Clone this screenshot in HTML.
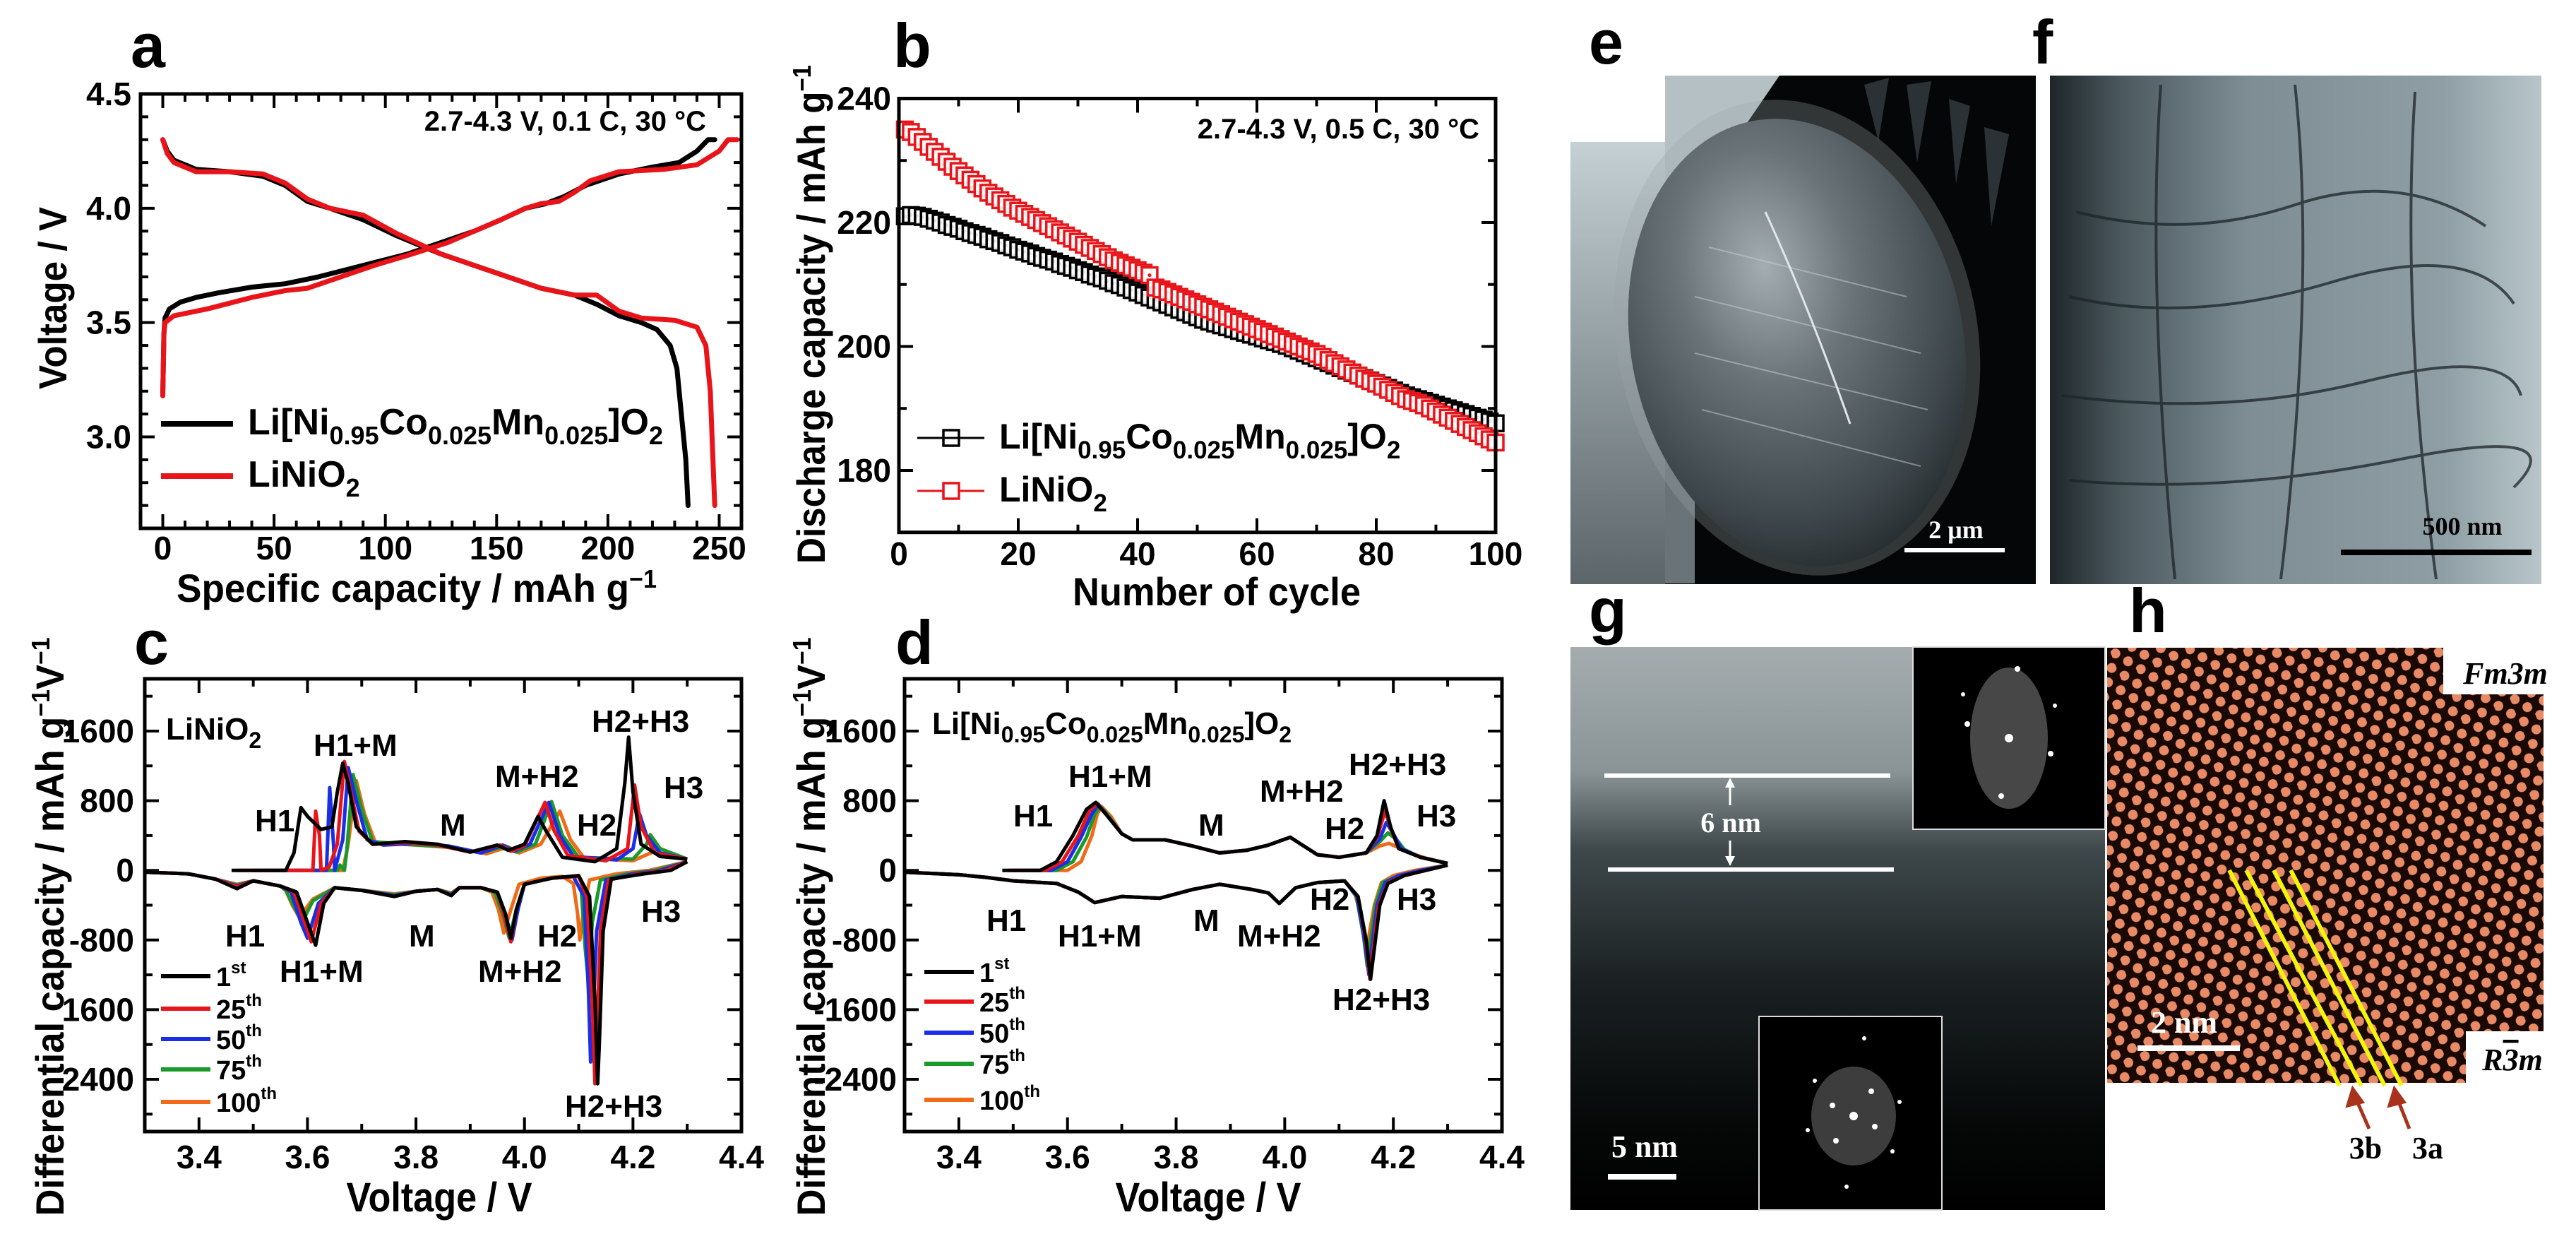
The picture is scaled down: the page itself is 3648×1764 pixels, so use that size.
<!DOCTYPE html>
<html><head><meta charset="utf-8">
<style>
html,body{margin:0;padding:0;background:#fff;}
svg{display:block;font-family:"Liberation Sans",Arial,sans-serif;font-weight:bold;}
</style></head>
<body>
<svg id="fig" xmlns="http://www.w3.org/2000/svg" width="3648" height="1764" viewBox="0 0 3648 1764">
<defs>
<radialGradient id="eg" cx="0.45" cy="0.32" r="0.75">
<stop offset="0" stop-color="#a4aeb2"/><stop offset="0.35" stop-color="#6a7478"/><stop offset="0.75" stop-color="#3e474b"/><stop offset="1" stop-color="#1e2428"/></radialGradient>
<linearGradient id="eleft" x1="0" y1="0" x2="0" y2="1"><stop offset="0" stop-color="#c4d0d4"/><stop offset="1" stop-color="#5c666a"/></linearGradient>
<linearGradient id="fg" x1="0" y1="0" x2="1" y2="0"><stop offset="0" stop-color="#1e2629"/><stop offset="0.15" stop-color="#4c5a60"/><stop offset="0.4" stop-color="#7d8d93"/><stop offset="0.8" stop-color="#8e9ea4"/><stop offset="1" stop-color="#b8c6ca"/></linearGradient>
<linearGradient id="gg" x1="0" y1="0" x2="0" y2="1"><stop offset="0" stop-color="#a4acae"/><stop offset="0.22" stop-color="#8a9496"/><stop offset="0.36" stop-color="#3e484a"/><stop offset="0.6" stop-color="#1a2022"/><stop offset="0.85" stop-color="#060808"/><stop offset="1" stop-color="#000"/></linearGradient>
<pattern id="lat" width="25" height="34" patternUnits="userSpaceOnUse" patternTransform="rotate(-22)">
<rect width="25" height="34" fill="#1a0804"/>
<circle cx="6" cy="8" r="7" fill="#e88a66"/><circle cx="18.5" cy="25" r="7" fill="#e88a66"/></pattern>
</defs>

<!-- panel labels -->
<text x="185" y="95" font-size="88">a</text>
<text x="1265" y="95" font-size="88">b</text>
<text x="190" y="940" font-size="88">c</text>
<text x="1268" y="940" font-size="88">d</text>
<text x="2250" y="90" font-size="88">e</text>
<text x="2878" y="90" font-size="88">f</text>
<text x="2250" y="895" font-size="88">g</text>
<text x="3015" y="895" font-size="88">h</text>

<!-- axis titles -->
<text x="590" y="852" font-size="56" text-anchor="middle" textLength="680" lengthAdjust="spacingAndGlyphs">Specific capacity / mAh g<tspan dy="-20" font-size="36">−1</tspan></text>
<text transform="translate(94,422) rotate(-90)" font-size="56" text-anchor="middle" textLength="258" lengthAdjust="spacingAndGlyphs">Voltage / V</text>
<text x="1723" y="857" font-size="56" text-anchor="middle" textLength="408" lengthAdjust="spacingAndGlyphs">Number of cycle</text>
<text transform="translate(1168,445) rotate(-90)" font-size="56" text-anchor="middle" textLength="706" lengthAdjust="spacingAndGlyphs">Discharge capacity / mAh g<tspan dy="-20" font-size="36">−1</tspan></text>
<text x="622" y="1715" font-size="58" text-anchor="middle" textLength="263" lengthAdjust="spacingAndGlyphs">Voltage / V</text>
<text transform="translate(90,1312) rotate(-90)" font-size="56" text-anchor="middle" textLength="819" lengthAdjust="spacingAndGlyphs">Differential capacity / mAh g<tspan dy="-20" font-size="36">−1</tspan><tspan dy="20">V</tspan><tspan dy="-20" font-size="36">−1</tspan></text>
<text x="1711" y="1715" font-size="58" text-anchor="middle" textLength="263" lengthAdjust="spacingAndGlyphs">Voltage / V</text>
<text transform="translate(1168,1312) rotate(-90)" font-size="56" text-anchor="middle" textLength="819" lengthAdjust="spacingAndGlyphs">Differential capacity / mAh g<tspan dy="-20" font-size="36">−1</tspan><tspan dy="20">V</tspan><tspan dy="-20" font-size="36">−1</tspan></text>

<!-- condition notes -->
<text x="1000" y="185" font-size="40" text-anchor="end">2.7-4.3 V, 0.1 C, 30 °C</text>
<text x="2095" y="196" font-size="40" text-anchor="end">2.7-4.3 V, 0.5 C, 30 °C</text>

<!-- legend a -->
<g>
<line x1="228" y1="600" x2="330" y2="600" stroke="#000" stroke-width="8"/>
<text x="351" y="615" font-size="52">Li[Ni<tspan dy="14" font-size="36">0.95</tspan><tspan dy="-14">Co</tspan><tspan dy="14" font-size="36">0.025</tspan><tspan dy="-14">Mn</tspan><tspan dy="14" font-size="36">0.025</tspan><tspan dy="-14">]O</tspan><tspan dy="14" font-size="36">2</tspan></text>
<line x1="228" y1="674" x2="330" y2="674" stroke="#e8141a" stroke-width="8"/>
<text x="351" y="689" font-size="52">LiNiO<tspan dy="14" font-size="36">2</tspan></text>
</g>
<!-- legend b -->
<g>
<line x1="1299" y1="620" x2="1394" y2="620" stroke="#000" stroke-width="3"/>
<rect x="1336" y="609" width="22" height="22" fill="none" stroke="#000" stroke-width="3.5"/>
<text x="1415" y="635" font-size="50">Li[Ni<tspan dy="14" font-size="35">0.95</tspan><tspan dy="-14">Co</tspan><tspan dy="14" font-size="35">0.025</tspan><tspan dy="-14">Mn</tspan><tspan dy="14" font-size="35">0.025</tspan><tspan dy="-14">]O</tspan><tspan dy="14" font-size="35">2</tspan></text>
<line x1="1299" y1="695" x2="1394" y2="695" stroke="#e8141a" stroke-width="3"/>
<rect x="1336" y="684" width="22" height="22" fill="#fff" stroke="#e8141a" stroke-width="3.5"/>
<text x="1415" y="710" font-size="50">LiNiO<tspan dy="14" font-size="35">2</tspan></text>
</g>

<!-- annotations c -->
<g font-size="44">
<text x="235" y="1047">LiNiO<tspan dy="12" font-size="32">2</tspan></text>
<text x="444" y="1070">H1+M</text>
<text x="361" y="1177">H1</text>
<text x="623" y="1183">M</text>
<text x="701" y="1114">M+H2</text>
<text x="817" y="1183">H2</text>
<text x="838" y="1036">H2+H3</text>
<text x="940" y="1130">H3</text>
<text x="319" y="1340">H1</text>
<text x="579" y="1340">M</text>
<text x="396" y="1390">H1+M</text>
<text x="677" y="1390">M+H2</text>
<text x="761" y="1340">H2</text>
<text x="908" y="1305">H3</text>
<text x="800" y="1581">H2+H3</text>
</g>
<!-- annotations d -->
<g font-size="44">
<text x="1320" y="1039">Li[Ni<tspan dy="12" font-size="32">0.95</tspan><tspan dy="-12">Co</tspan><tspan dy="12" font-size="32">0.025</tspan><tspan dy="-12">Mn</tspan><tspan dy="12" font-size="32">0.025</tspan><tspan dy="-12">]O</tspan><tspan dy="12" font-size="32">2</tspan></text>
<text x="1513" y="1114">H1+M</text>
<text x="1435" y="1170">H1</text>
<text x="1697" y="1183">M</text>
<text x="1784" y="1135">M+H2</text>
<text x="1876" y="1188">H2</text>
<text x="1910" y="1097">H2+H3</text>
<text x="2006" y="1170">H3</text>
<text x="1397" y="1318">H1</text>
<text x="1498" y="1340">H1+M</text>
<text x="1690" y="1318">M</text>
<text x="1752" y="1340">M+H2</text>
<text x="1855" y="1288">H2</text>
<text x="1978" y="1288">H3</text>
<text x="1887" y="1430">H2+H3</text>
</g>

<!-- panel e micrograph -->
<g>
<rect x="2224" y="201" width="134" height="626" fill="url(#eleft)"/>
<rect x="2358" y="107" width="525" height="720" fill="#050607"/>
<polygon points="2358,107 2520,107 2470,180 2400,300 2358,420" fill="#b4c0c4"/>
<polygon points="2358,420 2400,300 2400,826 2358,826" fill="#6a7478"/>
<g fill="#2a3236">
<polygon points="2640,120 2660,200 2675,110"/><polygon points="2700,120 2715,230 2735,115"/><polygon points="2760,140 2770,260 2790,150"/><polygon points="2810,180 2820,320 2845,190"/>
</g>
<ellipse cx="2545" cy="478" rx="255" ry="340" transform="rotate(-12 2545 478)" fill="#9aa6aa" opacity="0.3"/>
<ellipse cx="2545" cy="485" rx="235" ry="320" transform="rotate(-12 2545 485)" fill="url(#eg)"/>
<g stroke="#c8d0d4" stroke-width="2" fill="none" opacity="0.5">
<path d="M2420 350 L2700 420"/><path d="M2400 420 L2720 500"/><path d="M2400 500 L2730 580"/><path d="M2410 580 L2720 660"/>
</g>
<path d="M2500 300 Q2560 430 2620 600" stroke="#e0e6e8" stroke-width="3" fill="none"/>
<text x="2770" y="762" font-family="Liberation Serif,serif" font-size="36" fill="#fff" text-anchor="middle">2 μm</text>
<rect x="2697" y="776" width="142" height="6" fill="#fff"/>
</g>
<!-- panel f micrograph -->
<g>
<rect x="2903" y="107" width="696" height="720" fill="url(#fg)"/>
<g stroke="#1c2428" stroke-width="4" fill="none" opacity="0.75">
<path d="M2940 300 Q3100 340 3250 290 T3520 320"/><path d="M2930 420 Q3100 460 3300 400 T3560 430"/>
<path d="M2920 560 Q3150 590 3350 540 T3570 560"/><path d="M2930 680 Q3150 700 3400 650 T3560 690"/>
<path d="M3060 120 Q3040 400 3080 820"/><path d="M3250 120 Q3280 400 3230 820"/><path d="M3420 130 Q3400 450 3450 820"/>
</g>
<text x="3487" y="757" font-family="Liberation Serif,serif" font-size="36" fill="#000" text-anchor="middle">500 nm</text>
<rect x="3315" y="778" width="270" height="8" fill="#000"/>
</g>
<!-- panel g micrograph -->
<g>
<rect x="2224" y="916" width="757" height="797" fill="url(#gg)"/>
<rect x="2709" y="916" width="272" height="258" fill="#000" stroke="#ddd" stroke-width="2"/>
<g fill="#fff">
<ellipse cx="2845" cy="1045" rx="55" ry="100" fill="#777" opacity="0.6"/>
<circle cx="2845" cy="1045" r="6"/><circle cx="2857" cy="947" r="4"/><circle cx="2834" cy="1127" r="4"/><circle cx="2786" cy="1025" r="4"/><circle cx="2904" cy="1067" r="4"/><circle cx="2780" cy="983" r="3"/><circle cx="2910" cy="999" r="3"/>
</g>
<rect x="2491" y="1439" width="259" height="274" fill="#000" stroke="#ddd" stroke-width="2"/>
<g fill="#fff">
<ellipse cx="2625" cy="1580" rx="60" ry="70" fill="#666" opacity="0.6"/>
<circle cx="2625" cy="1580" r="6"/><circle cx="2595" cy="1565" r="4"/><circle cx="2655" cy="1595" r="4"/><circle cx="2600" cy="1615" r="4"/><circle cx="2650" cy="1545" r="4"/><circle cx="2570" cy="1530" r="3"/><circle cx="2680" cy="1630" r="3"/><circle cx="2560" cy="1600" r="3"/><circle cx="2690" cy="1560" r="3"/><circle cx="2615" cy="1680" r="3"/><circle cx="2640" cy="1470" r="3"/>
</g>
<rect x="2272" y="1095" width="405" height="6" fill="#fff"/>
<rect x="2277" y="1228" width="405" height="6" fill="#fff"/>
<line x1="2450" y1="1105" x2="2450" y2="1140" stroke="#fff" stroke-width="3"/>
<polygon points="2443,1115 2450,1101 2457,1115" fill="#fff"/>
<line x1="2450" y1="1190" x2="2450" y2="1224" stroke="#fff" stroke-width="3"/>
<polygon points="2443,1212 2450,1226 2457,1212" fill="#fff"/>
<text x="2451" y="1178" font-family="Liberation Serif,serif" font-size="40" fill="#fff" text-anchor="middle">6 nm</text>
<text x="2329" y="1638" font-family="Liberation Serif,serif" font-size="44" fill="#fff" text-anchor="middle">5 nm</text>
<rect x="2277" y="1662" width="97" height="8" fill="#fff"/>
</g>
<!-- panel h micrograph -->
<g>
<rect x="2984" y="917" width="618" height="616" fill="url(#lat)"/>
<rect x="3460" y="917" width="188" height="66" fill="#fff"/>
<text x="3548" y="968" font-family="Liberation Serif,serif" font-style="italic" font-size="44" text-anchor="middle">Fm3m</text>
<rect x="3492" y="1460" width="156" height="73" fill="#fff"/>
<text x="3558" y="1515" font-family="Liberation Serif,serif" font-style="italic" font-size="44" text-anchor="middle">R<tspan text-decoration="overline">3</tspan>m</text>
<rect x="3602" y="983" width="46" height="477" fill="#fff"/>
<g stroke="#f4f40c" stroke-width="6">
<line x1="3157" y1="1232" x2="3313" y2="1537"/><line x1="3181" y1="1232" x2="3344" y2="1537"/>
<line x1="3220" y1="1232" x2="3377" y2="1537"/><line x1="3244" y1="1232" x2="3401" y2="1537"/>
</g>
<text x="3093" y="1462" font-family="Liberation Serif,serif" font-size="44" fill="#fff" text-anchor="middle">2 nm</text>
<rect x="3027" y="1480" width="145" height="8" fill="#fff"/>
<g stroke="#a8321c" stroke-width="5" fill="#a8321c">
<line x1="3355" y1="1598" x2="3334" y2="1550"/><polygon points="3325,1565 3332,1542 3345,1560"/>
<line x1="3412" y1="1598" x2="3393" y2="1550"/><polygon points="3384,1565 3391,1542 3404,1560"/>
</g>
<text x="3350" y="1640" font-family="Liberation Serif,serif" font-size="44" text-anchor="middle">3b</text>
<text x="3438" y="1640" font-family="Liberation Serif,serif" font-size="44" text-anchor="middle">3a</text>
</g>
<g id="charts"></g>
</svg>

<script>
// ===== Panel a data =====
const aNcmChargeCap = [0,0.5,1,3,8,15,25,40,55,70,90,110,125,140,152,163,172,180,190,205,220,232,240,245,248];
const aNcmChargeV   = [3.18,3.45,3.52,3.56,3.59,3.61,3.63,3.655,3.67,3.70,3.75,3.80,3.85,3.90,3.95,4.00,4.02,4.05,4.10,4.15,4.18,4.20,4.25,4.30,4.30];
const aLnoChargeCap = [0,0.5,1,5,20,40,55,65,80,95,112,128,140,152,163,170,178,185,192,205,225,240,250,254,258];
const aLnoChargeV   = [3.18,3.45,3.50,3.53,3.56,3.61,3.64,3.65,3.70,3.75,3.80,3.85,3.90,3.95,4.00,4.02,4.03,4.07,4.12,4.16,4.17,4.19,4.25,4.30,4.30];
const aNcmDisCap = [0,2,5,15,30,45,55,65,75,90,105,125,140,155,170,185,195,205,215,222,228,231,233,235,236];
const aNcmDisV   = [4.30,4.25,4.21,4.17,4.16,4.14,4.10,4.03,4.00,3.95,3.88,3.80,3.75,3.70,3.65,3.62,3.58,3.53,3.50,3.47,3.40,3.30,3.10,2.90,2.70];
const aLnoDisCap = [0,2,5,15,30,45,55,65,75,90,105,125,140,155,170,185,195,205,215,230,240,244,246,247,248];
const aLnoDisV   = [4.30,4.24,4.20,4.16,4.16,4.15,4.11,4.04,4.00,3.97,3.89,3.80,3.75,3.70,3.65,3.62,3.62,3.55,3.52,3.51,3.48,3.40,3.20,2.95,2.70];
const aXTicks = [0,50,100,150,200,250];
const aXTickLabels = ["0","50","100","150","200","250"];
const aYTicks = [3.0,3.5,4.0,4.5];
const aYTickLabels = ["3.0","3.5","4.0","4.5"];

// ===== Panel b data =====
const bCycles = [];
for (let i=1;i<=100;i++) bCycles.push(i);
const bNcm = [221.0,221.2,221.1,220.9,220.6,220.3,220.0,219.6,219.3,219.0,
218.6,218.3,218.0,217.7,217.3,217.0,216.7,216.3,216.0,215.6,
215.3,215.0,214.6,214.3,214.0,213.7,213.3,213.0,212.7,212.3,
212.0,211.6,211.3,211.0,210.6,210.2,209.9,209.5,209.1,208.7,
208.3,207.9,207.5,207.1,206.7,206.3,205.9,205.5,205.1,204.7,
204.3,204.0,203.7,203.4,203.1,202.8,202.5,202.2,201.9,201.6,
201.3,201.0,200.7,200.4,200.1,199.7,199.3,198.9,198.5,198.1,
197.7,197.3,196.9,196.5,196.1,195.7,195.3,194.9,194.5,194.1,
193.7,193.3,192.9,192.5,192.1,191.8,191.5,191.2,190.9,190.6,
190.3,190.0,189.7,189.4,189.1,188.8,188.5,188.2,187.9,187.6];
const bLno = [235.0,234.6,233.8,233.0,232.2,231.4,230.6,229.8,229.0,228.3,
227.6,226.9,226.2,225.5,224.8,224.2,223.6,223.0,222.4,221.9,
221.4,220.9,220.4,219.9,219.4,218.9,218.4,217.9,217.4,216.9,
216.4,215.9,215.4,214.9,214.4,213.9,213.5,213.1,212.7,212.3,
211.9,211.5,209.5,209.2,208.8,208.4,208.0,207.6,207.2,206.8,
206.4,206.0,205.6,205.2,204.8,204.4,204.0,203.6,203.2,202.8,
202.4,202.0,201.6,201.2,200.8,200.4,200.0,199.6,199.2,198.8,
198.3,197.8,197.3,196.8,196.3,195.8,195.3,194.8,194.4,194.0,
193.5,193.0,192.5,192.0,191.5,191.2,190.9,190.5,190.0,189.5,
189.0,188.5,188.0,187.5,187.0,186.5,186.0,185.5,185.0,184.5];
const bXTicks = [0,20,40,60,80,100];
const bXTickLabels = ["0","20","40","60","80","100"];
const bYTicks = [180,200,220,240];
const bYTickLabels = ["180","200","220","240"];

// ===== Panel c data (LiNiO2 dQ/dV) =====
const cycleNames = ["1st","25th","50th","75th","100th"];
const cycleColors = ["#000000","#e8141a","#1a2ee8","#1a9a2a","#f06a1a"];
const cCharge = [
 [[3.46,0],[3.56,0],[3.575,200],[3.588,720],[3.60,620],[3.625,470],[3.645,500],[3.655,900],[3.665,1230],[3.675,1000],[3.69,500],[3.72,300],[3.78,330],[3.84,300],[3.90,210],[3.95,290],[3.97,230],[4.00,300],[4.025,620],[4.04,450],[4.07,150],[4.13,100],[4.17,250],[4.185,1000],[4.192,1530],[4.20,900],[4.215,300],[4.25,160],[4.30,130]],
 [[3.47,0],[3.61,0],[3.615,680],[3.622,400],[3.625,0],[3.64,40],[3.655,300],[3.668,1250],[3.68,900],[3.695,450],[3.72,300],[3.78,320],[3.84,290],[3.90,210],[3.955,290],[3.975,220],[4.00,280],[4.038,780],[4.055,450],[4.08,170],[4.15,110],[4.19,250],[4.203,980],[4.215,500],[4.24,200],[4.30,130]],
 [[3.50,0],[3.635,0],[3.641,950],[3.648,300],[3.65,0],[3.665,350],[3.675,1180],[3.69,800],[3.71,350],[3.74,290],[3.80,310],[3.86,280],[3.92,200],[3.96,290],[3.98,220],[4.01,300],[4.045,780],[4.065,400],[4.09,160],[4.17,120],[4.20,250],[4.212,650],[4.225,400],[4.25,200],[4.30,130]],
 [[3.52,0],[3.655,0],[3.66,60],[3.668,0],[3.672,200],[3.684,1100],[3.70,700],[3.72,330],[3.78,300],[3.86,270],[3.92,200],[3.965,280],[3.985,210],[4.02,300],[4.05,790],[4.07,400],[4.10,150],[4.20,130],[4.225,300],[4.232,410],[4.25,250],[4.30,130]],
 [[3.54,0],[3.665,0],[3.675,300],[3.69,1030],[3.705,650],[3.725,320],[3.80,290],[3.87,260],[3.93,190],[3.97,270],[3.99,200],[4.03,300],[4.065,680],[4.085,350],[4.11,140],[4.20,110],[4.24,220],[4.26,170],[4.30,120]]
];
const cDischarge = [
 [[4.30,100],[4.27,0],[4.22,-40],[4.16,-100],[4.145,-700],[4.138,-2000],[4.135,-2450],[4.13,-1500],[4.12,-300],[4.10,-60],[4.05,-90],[4.00,-160],[3.985,-450],[3.975,-780],[3.965,-500],[3.95,-250],[3.92,-200],[3.88,-200],[3.865,-290],[3.84,-220],[3.80,-240],[3.76,-300],[3.70,-230],[3.65,-200],[3.63,-380],[3.615,-860],[3.60,-600],[3.58,-250],[3.55,-180],[3.50,-120],[3.47,-210],[3.43,-100],[3.38,-40],[3.30,-20]],
 [[4.30,100],[4.26,0],[4.21,-40],[4.155,-110],[4.14,-700],[4.133,-2000],[4.130,-2450],[4.125,-1500],[4.115,-300],[4.10,-70],[4.05,-90],[4.00,-160],[3.985,-450],[3.975,-820],[3.962,-500],[3.95,-250],[3.92,-200],[3.88,-200],[3.865,-290],[3.84,-220],[3.80,-240],[3.76,-300],[3.70,-230],[3.65,-200],[3.625,-380],[3.607,-820],[3.595,-600],[3.575,-250],[3.55,-180],[3.50,-120],[3.47,-190],[3.43,-100],[3.38,-40],[3.30,-20]],
 [[4.30,100],[4.25,0],[4.20,-40],[4.15,-110],[4.133,-700],[4.126,-1800],[4.122,-2200],[4.118,-1400],[4.11,-300],[4.09,-70],[4.05,-90],[4.00,-160],[3.988,-450],[3.977,-800],[3.965,-500],[3.95,-250],[3.92,-200],[3.88,-200],[3.865,-280],[3.84,-220],[3.80,-240],[3.76,-290],[3.70,-230],[3.65,-200],[3.62,-380],[3.60,-780],[3.588,-600],[3.57,-250],[3.55,-180],[3.50,-120],[3.47,-180],[3.43,-100],[3.38,-40],[3.30,-20]],
 [[4.30,100],[4.24,0],[4.19,-40],[4.14,-110],[4.125,-600],[4.118,-1300],[4.112,-900],[4.105,-250],[4.09,-70],[4.05,-90],[4.00,-160],[3.985,-450],[3.972,-780],[3.96,-500],[3.945,-250],[3.92,-200],[3.88,-200],[3.865,-270],[3.84,-220],[3.80,-240],[3.76,-280],[3.70,-230],[3.65,-200],[3.61,-350],[3.59,-600],[3.578,-450],[3.56,-230],[3.55,-180],[3.50,-120],[3.47,-170],[3.43,-100],[3.38,-40],[3.30,-20]],
 [[4.30,100],[4.23,0],[4.17,-40],[4.12,-110],[4.108,-500],[4.102,-800],[4.098,-500],[4.09,-150],[4.07,-70],[4.03,-90],[3.99,-160],[3.975,-450],[3.962,-720],[3.952,-450],[3.94,-250],[3.92,-200],[3.88,-200],[3.865,-260],[3.84,-220],[3.80,-240],[3.76,-270],[3.70,-230],[3.65,-200],[3.61,-330],[3.585,-540],[3.572,-400],[3.56,-230],[3.55,-180],[3.50,-120],[3.47,-160],[3.43,-100],[3.38,-40],[3.30,-20]]
];
// ===== Panel d data (NCM dQ/dV) =====
const dCharge = [
 [[3.48,0],[3.55,0],[3.58,100],[3.61,400],[3.635,700],[3.652,780],[3.67,650],[3.70,420],[3.72,350],[3.78,350],[3.83,280],[3.88,200],[3.93,230],[3.97,290],[4.01,380],[4.03,300],[4.06,180],[4.10,150],[4.15,200],[4.17,400],[4.183,800],[4.195,500],[4.21,250],[4.25,150],[4.30,80]],
 [[3.49,0],[3.56,0],[3.59,100],[3.62,400],[3.64,680],[3.655,770],[3.67,650],[3.70,420],[3.72,350],[3.78,350],[3.83,280],[3.88,200],[3.93,230],[3.97,290],[4.01,380],[4.03,300],[4.06,180],[4.10,150],[4.15,200],[4.17,380],[4.185,680],[4.197,450],[4.21,250],[4.25,150],[4.30,80]],
 [[3.50,0],[3.57,0],[3.60,100],[3.625,380],[3.645,650],[3.657,760],[3.672,640],[3.70,420],[3.72,350],[3.78,350],[3.83,280],[3.88,200],[3.93,230],[3.97,290],[4.01,380],[4.03,300],[4.06,180],[4.10,150],[4.15,200],[4.175,360],[4.187,550],[4.20,420],[4.215,250],[4.25,150],[4.30,80]],
 [[3.51,0],[3.58,0],[3.61,100],[3.635,380],[3.65,640],[3.66,740],[3.675,630],[3.70,420],[3.72,350],[3.78,350],[3.83,280],[3.88,200],[3.93,230],[3.97,290],[4.01,380],[4.03,300],[4.06,180],[4.10,150],[4.15,200],[4.175,330],[4.19,430],[4.205,360],[4.22,240],[4.25,150],[4.30,80]],
 [[3.52,0],[3.60,0],[3.625,100],[3.645,400],[3.655,650],[3.663,730],[3.68,620],[3.70,420],[3.72,350],[3.78,350],[3.83,280],[3.88,200],[3.93,230],[3.97,290],[4.01,380],[4.03,300],[4.06,180],[4.10,150],[4.15,200],[4.175,280],[4.192,310],[4.21,260],[4.23,200],[4.26,140],[4.30,80]]
];
const dDischarge = [
 [[4.30,60],[4.26,0],[4.22,-60],[4.19,-150],[4.175,-400],[4.163,-1000],[4.158,-1250],[4.15,-800],[4.135,-300],[4.11,-120],[4.06,-140],[4.02,-200],[3.99,-380],[3.97,-260],[3.94,-220],[3.88,-160],[3.83,-220],[3.77,-320],[3.70,-300],[3.65,-370],[3.62,-250],[3.58,-150],[3.50,-120],[3.45,-80],[3.40,-50],[3.30,-20]],
 [[4.30,60],[4.26,0],[4.22,-60],[4.19,-140],[4.173,-400],[4.161,-1000],[4.157,-1250],[4.149,-800],[4.135,-300],[4.11,-120],[4.06,-140],[4.02,-200],[3.99,-380],[3.97,-260],[3.94,-220],[3.88,-160],[3.83,-220],[3.77,-320],[3.70,-300],[3.65,-370],[3.62,-250],[3.58,-150],[3.50,-120],[3.45,-80],[3.40,-50],[3.30,-20]],
 [[4.30,60],[4.25,0],[4.21,-60],[4.185,-140],[4.17,-400],[4.159,-950],[4.155,-1200],[4.147,-800],[4.133,-300],[4.11,-120],[4.06,-140],[4.02,-200],[3.99,-380],[3.97,-260],[3.94,-220],[3.88,-160],[3.83,-220],[3.77,-320],[3.70,-300],[3.65,-370],[3.62,-250],[3.58,-150],[3.50,-120],[3.45,-80],[3.40,-50],[3.30,-20]],
 [[4.30,60],[4.25,0],[4.21,-60],[4.18,-140],[4.167,-400],[4.156,-900],[4.152,-1100],[4.145,-750],[4.132,-300],[4.11,-120],[4.06,-140],[4.02,-200],[3.99,-380],[3.97,-260],[3.94,-220],[3.88,-160],[3.83,-220],[3.77,-320],[3.70,-300],[3.65,-370],[3.62,-250],[3.58,-150],[3.50,-120],[3.45,-80],[3.40,-50],[3.30,-20]],
 [[4.30,60],[4.24,0],[4.20,-60],[4.178,-140],[4.165,-400],[4.155,-750],[4.152,-900],[4.145,-650],[4.13,-280],[4.11,-120],[4.06,-140],[4.02,-200],[3.99,-380],[3.97,-260],[3.94,-220],[3.88,-160],[3.83,-220],[3.77,-320],[3.70,-300],[3.65,-370],[3.62,-250],[3.58,-150],[3.50,-120],[3.45,-80],[3.40,-50],[3.30,-20]]
];
const dqXTicks = [3.4,3.6,3.8,4.0,4.2,4.4];
const dqXTickLabels = ["3.4","3.6","3.8","4.0","4.2","4.4"];
const dqYTicks = [-2400,-1600,-800,0,800,1600];
const cYTickLabels = ["2400","1600","-800","0","800","1600"];
const dYTickLabels = ["-2400","-1600","-800","0","800","1600"];

// ===== rendering =====
const NS = "http://www.w3.org/2000/svg";
const root = document.getElementById("charts");
function mk(tag, attrs, name, parent) {
  const el = document.createElementNS(NS, tag);
  for (const k in attrs) el.setAttribute(k, attrs[k]);
  
  
  (parent || root).appendChild(el);
  return el;
}
function axes(p) {
  const g = mk("g", {}, p.id + "-axes");
  const sx = v => p.x0 + (v - p.xmin) / (p.xmax - p.xmin) * (p.x1 - p.x0);
  const sy = v => p.y1 - (v - p.ymin) / (p.ymax - p.ymin) * (p.y1 - p.y0);
  const tg = mk("g", {stroke:"#000","stroke-width":4}, p.id + "-ticks", g);
  for (let v = p.xmin + p.xminorOff; v <= p.xmax + 1e-9; v += p.xminor) {
    const isMaj = p.xTicks.some(t => Math.abs(t - v) < 1e-6);
    const L = isMaj ? 20 : 11, x = sx(v);
    mk("line", {x1:x, y1:p.y1, x2:x, y2:p.y1 - L}, p.id + "-x-tick", tg);
    mk("line", {x1:x, y1:p.y0, x2:x, y2:p.y0 + L}, p.id + "-x-tick-top", tg);
  }
  for (let v = p.ymin + p.yminorOff; v <= p.ymax + 1e-9; v += p.yminor) {
    const isMaj = p.yTicks.some(t => Math.abs(t - v) < 1e-6);
    const L = isMaj ? 20 : 11, y = sy(v);
    mk("line", {x1:p.x0, y1:y, x2:p.x0 + L, y2:y}, p.id + "-y-tick", tg);
    mk("line", {x1:p.x1, y1:y, x2:p.x1 - L, y2:y}, p.id + "-y-tick-right", tg);
  }
  p.xTicks.forEach((t, i) => {
    const el = mk("text", {x:sx(t), y:p.xLabelY, "font-size":46, "text-anchor":"middle"}, p.id + "-x-tick-label", g);
    el.textContent = p.xLabels[i];
  });
  p.yTicks.forEach((t, i) => {
    const el = mk("text", {x:p.yLabelX, y:sy(t) + 16, "font-size":46, "text-anchor":"end"}, p.id + "-y-tick-label", g);
    el.textContent = p.yLabels[i];
  });
  return {sx, sy, g};
}
function frame(p) {
  mk("rect", {x:p.x0, y:p.y0, width:p.x1 - p.x0, height:p.y1 - p.y0, fill:"none", stroke:"#000", "stroke-width":5}, p.id + "-plot-frame");
}
function pathOf(xs, ys, sx, sy) {
  return xs.map((x, i) => (i ? "L" : "M") + sx(x).toFixed(1) + " " + sy(ys[i]).toFixed(1)).join(" ");
}
function pathPairs(pts, sx, sy) {
  return pts.map((p, i) => (i ? "L" : "M") + sx(p[0]).toFixed(1) + " " + sy(p[1]).toFixed(1)).join(" ");
}

// Panel a
const pa = {id:"a", x0:199, x1:1050, y0:133, y1:748, xmin:-10, xmax:260, ymin:2.6, ymax:4.5,
  xminor:10, xminorOff:10, yminor:0.1, yminorOff:0.1, xTicks:aXTicks, yTicks:aYTicks,
  xLabels:aXTickLabels, yLabels:aYTickLabels, xLabelY:792, yLabelX:186};
const A = axes(pa);
const aS = mk("g", {fill:"none","stroke-width":7,"stroke-linejoin":"round","stroke-linecap":"round"}, "a-series");
mk("path", {d:pathOf(aNcmChargeCap, aNcmChargeV, A.sx, A.sy), stroke:"#000"}, "a-ncm-charge-curve", aS);
mk("path", {d:pathOf(aNcmDisCap, aNcmDisV, A.sx, A.sy), stroke:"#000"}, "a-ncm-discharge-curve", aS);
mk("path", {d:pathOf(aLnoChargeCap, aLnoChargeV, A.sx, A.sy), stroke:"#e8141a"}, "a-lno-charge-curve", aS);
mk("path", {d:pathOf(aLnoDisCap, aLnoDisV, A.sx, A.sy), stroke:"#e8141a"}, "a-lno-discharge-curve", aS);
frame(pa);

// Panel b
const pb = {id:"b", x0:1273, x1:2118, y0:139.5, y1:753.7, xmin:0, xmax:100, ymin:170, ymax:240,
  xminor:10, xminorOff:10, yminor:10, yminorOff:10, xTicks:bXTicks, yTicks:bYTicks,
  xLabels:bXTickLabels, yLabels:bYTickLabels, xLabelY:800, yLabelX:1262};
const B = axes(pb);
[[bNcm, "#000", "#fff", "ncm"], [bLno, "#e8141a", "#fff", "lno"]].forEach(s => {
  const g = mk("g", {}, "b-series-" + s[3]);
  mk("path", {d:pathOf(bCycles, s[0], B.sx, B.sy), stroke:s[1], "stroke-width":3, fill:"none"}, "b-line-" + s[3], g);
  s[0].forEach((v, i) => {
    const x = B.sx(bCycles[i]), y = B.sy(v);
    mk("rect", {x:x - 11, y:y - 11, width:22, height:22, fill:s[2], "fill-opacity":0.9, stroke:s[1], "stroke-width":3.5}, "b-marker-" + s[3], g);
    mk("circle", {cx:x, cy:y, r:2.5, fill:s[1]}, "b-marker-dot-" + s[3], g);
  });
});
frame(pb);

// Panels c and d
function dq(id, x0, x1, yLabels, yLabelX, charge, dis) {
  const p = {id, x0, x1, y0:961, y1:1602, xmin:3.3, xmax:4.4, ymin:-3000, ymax:2200,
    xminor:0.1, xminorOff:0.1, yminor:400, yminorOff:200, xTicks:dqXTicks, yTicks:dqYTicks,
    xLabels:dqXTickLabels, yLabels, xLabelY:1654, yLabelX};
  const S = axes(p);
  const g = mk("g", {fill:"none","stroke-width":5,"stroke-linejoin":"round"}, id + "-series");
  for (let k = cycleNames.length - 1; k >= 0; k--) {
    mk("path", {d:pathPairs(charge[k], S.sx, S.sy), stroke:cycleColors[k]}, id + "-charge-" + cycleNames[k], g);
    mk("path", {d:pathPairs(dis[k], S.sx, S.sy), stroke:cycleColors[k]}, id + "-discharge-" + cycleNames[k], g);
  }
  frame(p);
  const lx = id === "c" ? 228 : 1309;
  const ly = id === "c" ? [1382,1428,1471,1514,1560] : [1376,1418,1462,1506,1557];
  const lg = mk("g", {}, id + "-legend");
  cycleNames.forEach((n, i) => {
    mk("line", {x1:lx, y1:ly[i], x2:lx + 70, y2:ly[i], stroke:cycleColors[i], "stroke-width":6}, id + "-legend-swatch", lg);
    const t = mk("text", {x:lx + 78, y:ly[i] + 14, "font-size":38}, id + "-legend-label", lg);
    const m = n.match(/^(\d+)(\D+)$/);
    t.textContent = m[1];
    const sup = mk("tspan", {dy:-18, "font-size":24}, id + "-legend-suffix", t);
    sup.textContent = m[2];
  });
}
dq("c", 205, 1050, cYTickLabels, 190, cCharge, cDischarge);
dq("d", 1281, 2127, dYTickLabels, 1270, dCharge, dDischarge);
</script>
</body></html>
